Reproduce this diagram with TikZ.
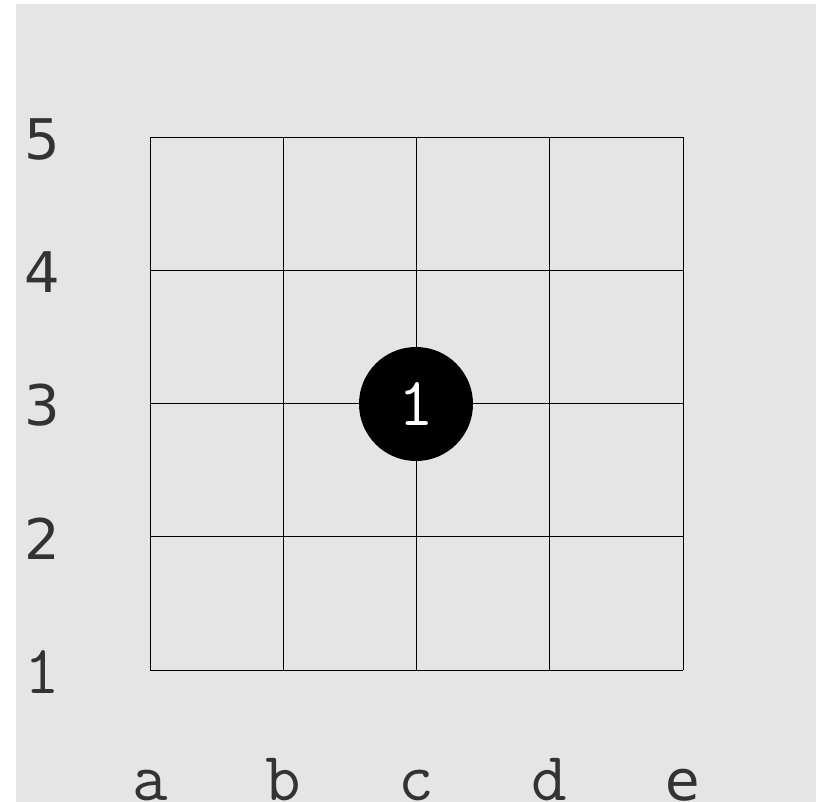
\documentclass[tikz,border=0pt]{standalone}
\usepackage{fontspec}
\setsansfont{DejaVu Sans}
\definecolor{bggray}{HTML}{E5E5E5}
\definecolor{labelgray}{HTML}{333333}
\begin{document}
\begin{tikzpicture}[x=1pt,y=-1pt,
  gridline/.style={draw=black,line width=0.9pt},
  sanslab/.style={text=labelgray,inner sep=0pt,font=\sffamily\fontsize{56}{68}\selectfont},
  monolab/.style={text=labelgray,inner sep=0pt,font=\ttfamily\fontsize{69}{80}\selectfont},
  stone/.style={circle,fill=black,minimum size=114pt,inner sep=0pt,text=white,font=\ttfamily\fontsize{69}{80}\selectfont}]
\useasboundingbox (0,0) rectangle (821,802);
\fill[white] (0,0) rectangle (821,802);
\fill[bggray] (16,4) rectangle (816,802);
% grid
\foreach \i in {0,...,4}{
  \draw[gridline] (150+133.25*\i,137) -- (150+133.25*\i,670);
  \draw[gridline] (150,137+133.25*\i) -- (683,137+133.25*\i);
}
% row labels
\node[sanslab,anchor=center] (r5) at (42,139) {5};
\node[sanslab,anchor=center] (r4) at (42,272) {4};
\node[sanslab,anchor=center] (r3) at (42,405) {3};
\node[sanslab,anchor=center] (r2) at (42,539) {2};
\node[monolab,anchor=center] (r1) at (42,672) {1};
% column labels
\node[monolab,anchor=base] (ca) at (150,800) {a};
\node[monolab,anchor=base] (cb) at (283,800) {b};
\node[monolab,anchor=base] (cc) at (416,800) {c};
\node[monolab,anchor=base] (cd) at (549,800) {d};
\node[sanslab,anchor=base] (ce) at (683,800) {e};
% stone
\node[stone] (s1) at (416,404) {1};
\end{tikzpicture}
\end{document}
